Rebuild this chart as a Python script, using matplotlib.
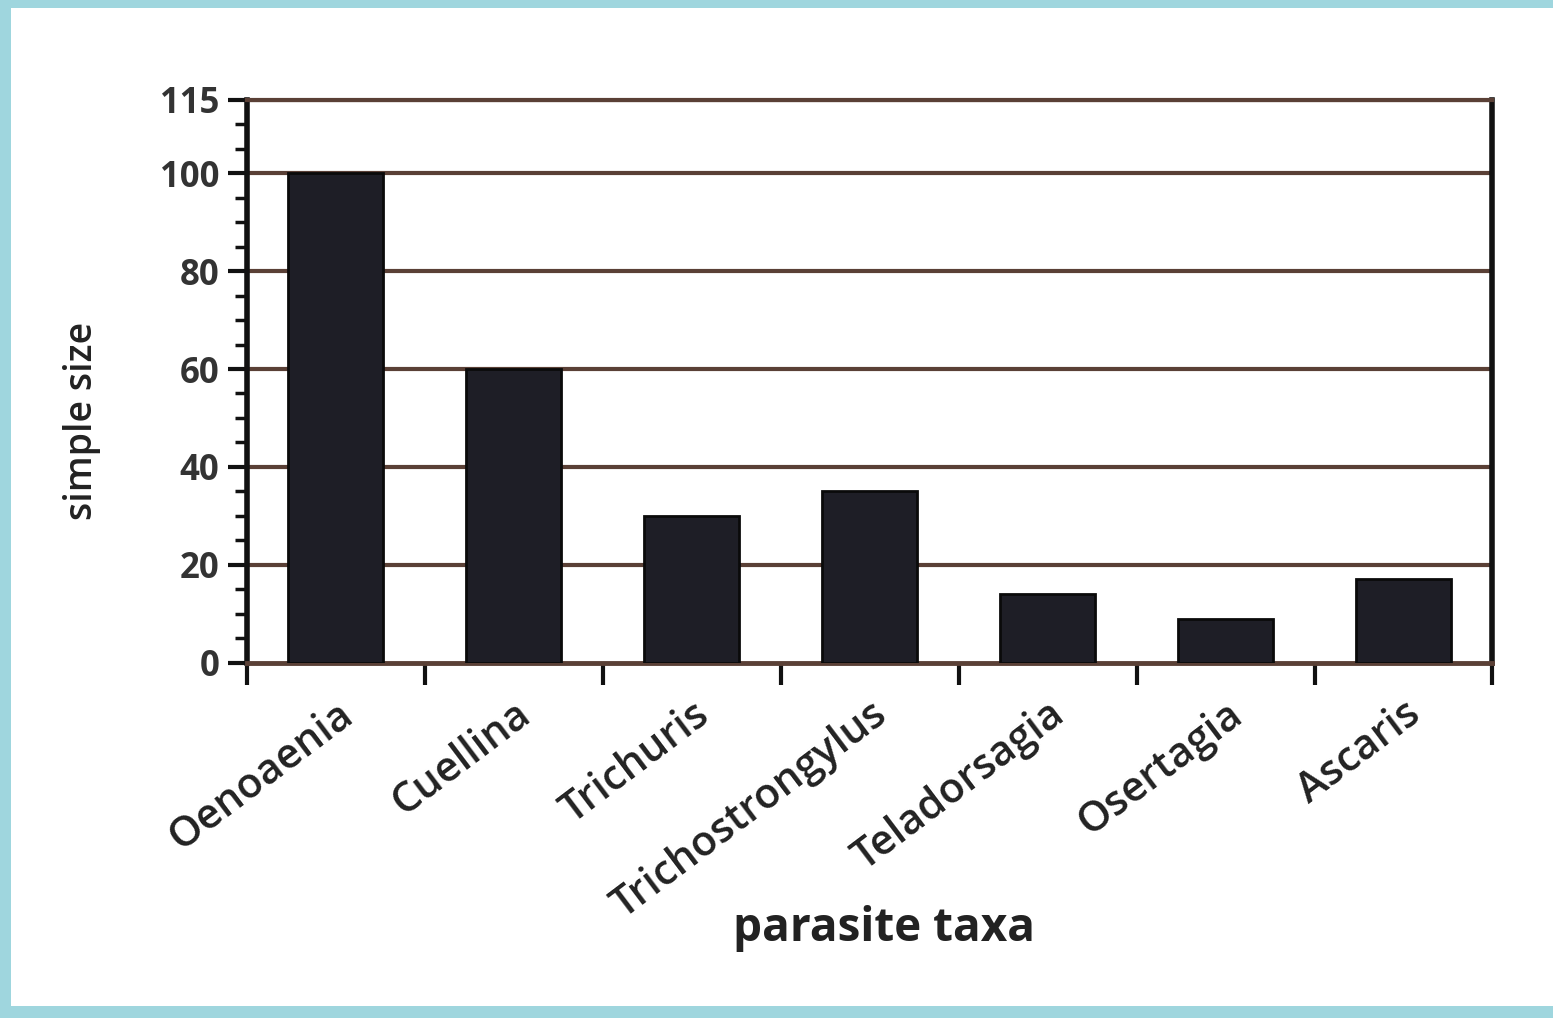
import matplotlib

matplotlib.use("Agg")
import matplotlib.pyplot as plt
import numpy as np
from matplotlib.patches import Rectangle
from matplotlib.ticker import FixedLocator, MultipleLocator

taxa = ["Oenoaenia", "Cuellina", "Trichuris", "Trichostrongylus",
        "Teladorsagia", "Osertagia", "Ascaris"]
sample_size = [100, 60, 30, 35, 14, 9, 17]
y_ticks = [0, 20, 40, 60, 80, 100, 115]

plt.rcParams["font.family"] = ["Open Sans", "DejaVu Sans"]

fig = plt.figure(figsize=(15.53, 10.18), dpi=100)
fig.patch.set_facecolor("#9fd6de")
fig.patches.append(Rectangle((0.007, 0.012), 0.993, 0.98, transform=fig.transFigure,
                             facecolor="white", edgecolor="none", zorder=-10))

ax = fig.add_axes([0.159, 0.349, 0.802, 0.553])
ax.set_facecolor("white")

x = np.arange(len(taxa))
grid_col = "#5a4036"
for v in y_ticks[1:]:
    ax.axhline(v, color=grid_col, lw=3, zorder=1)

bars = ax.bar(x, sample_size, width=0.535, color="#1e1e26", edgecolor="#0a0a0a",
              lw=2, zorder=3)

ax.set_xlim(-0.5, len(taxa) - 0.5)
ax.set_ylim(0, 115)

ax.spines["left"].set_linewidth(4)
ax.spines["right"].set_linewidth(4)
ax.spines["left"].set_color("#111")
ax.spines["right"].set_color("#111")
ax.spines["top"].set_color(grid_col)
ax.spines["top"].set_linewidth(3)
ax.spines["bottom"].set_color(grid_col)
ax.spines["bottom"].set_linewidth(3.5)

ax.set_yticks(y_ticks)
ax.set_yticklabels([str(v) for v in y_ticks], fontsize=25, fontweight="bold", color="#333")
ax.yaxis.set_minor_locator(MultipleLocator(5))
ax.tick_params(axis="y", which="major", direction="out", length=14, width=3, color="#111", pad=6)
ax.tick_params(axis="y", which="minor", direction="out", length=9, width=2.5, color="#111")

ax.xaxis.set_major_locator(FixedLocator(np.arange(-0.5, len(taxa), 1.0)))
ax.xaxis.set_major_formatter(plt.NullFormatter())
ax.xaxis.set_minor_locator(FixedLocator(x))
ax.set_xticklabels(taxa, minor=True, rotation=37, ha="right", va="top",
                   rotation_mode="anchor", fontsize=30, fontweight="semibold", color="#222")
ax.tick_params(axis="x", which="major", direction="out", length=16, width=3, color="#111")
ax.tick_params(axis="x", which="minor", length=0, pad=22)

ax.set_ylabel("simple size", fontsize=27, fontweight="semibold", color="#222")
ax.yaxis.set_label_coords(-0.117, 0.43)
fig.text(0.569, 0.088, "parasite taxa", ha="center", va="center",
         fontsize=33, fontweight="bold", color="#222")

fig.savefig("out.png", dpi=100)
